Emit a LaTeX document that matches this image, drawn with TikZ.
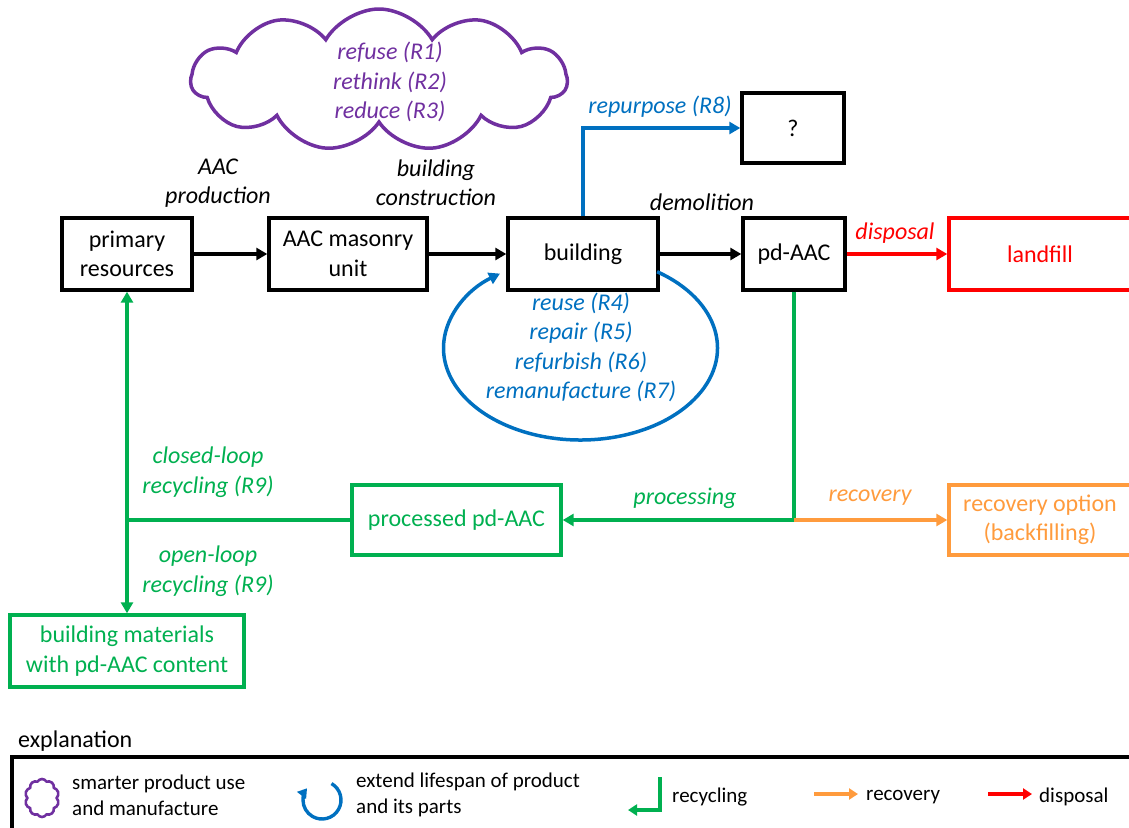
\documentclass[tikz,border=0pt]{standalone}
\usepackage{fontspec}
\setmainfont{Carlito}
\usetikzlibrary{arrows.meta,shapes.symbols}

\definecolor{cpurple}{HTML}{7030A0}
\definecolor{cblue}{HTML}{0070C0}
\definecolor{cgreen}{HTML}{00B050}
\definecolor{corange}{HTML}{FF9B3D}
\definecolor{cred}{HTML}{FF0000}

\tikzset{
  lw/.style={line width=3.5pt},
  bw/.style={line width=3.4pt},
  box/.style={draw, bw, rectangle, inner sep=0pt, align=center,
    font=\fontsize{24}{29.5}\selectfont},
  lbl/.style={align=center, inner sep=0pt, font=\fontsize{24}{29.5}\selectfont\itshape},
  leg/.style={anchor=west, align=left, inner sep=0pt, font=\fontsize{21}{26}\selectfont},
  tip/.style={-{Triangle[length=11pt,width=12pt]}},
  smalltip/.style={-{Triangle[length=9pt,width=11pt]}},
}

\begin{document}
\begin{tikzpicture}[x=1pt,y=-1pt]
\useasboundingbox (0,0) rectangle (1129,827);

% cloud of the smarter-use strategies
\node[cloud, draw=cpurple, lw, cloud puffs=11, cloud puff arc=120, aspect=2.6,
      minimum width=376pt, minimum height=142pt, inner sep=0pt] (cloud) at (379,80) {};
\node[lbl, text=cpurple] (rthree) at (390,82) {refuse (R1)\\rethink (R2)\\reduce (R3)};

% main chain
\node[box, minimum width=130pt, minimum height=72pt] (prim) at (127,254) {primary\\resources};
\node[box, minimum width=158pt, minimum height=72pt] (aac) at (348,254) {AAC masonry\\unit};
\node[box, minimum width=150pt, minimum height=72pt] (bld) at (583,254) {building};
\node[box, minimum width=102pt, minimum height=72pt] (pd) at (794,254) {pd-AAC};
\node[box, minimum width=102pt, minimum height=70pt] (q) at (793,128) {?};
\node[box, draw=cred, text=cred, minimum width=182pt, minimum height=72pt] (land) at (1040,254) {landfill};

\node[box, draw=cgreen, text=cgreen, minimum width=209pt, minimum height=70pt] (proc) at (456.5,520) {processed pd-AAC};
\node[box, draw=corange, text=corange, minimum width=182pt, minimum height=70pt] (rec) at (1040,520) {recovery option\\(backfilling)};
\node[box, draw=cgreen, text=cgreen, minimum width=234pt, minimum height=72pt] (bmat) at (127,651) {building materials\\with pd-AAC content};

% process labels
\node[lbl] (lprod) at (218,183) {AAC\\production};
\node[lbl] (lcons) at (436,183) {building\\construction};
\node[lbl] (ldem) at (702,202) {demolition};
\node[lbl, text=cblue] (lrep) at (660,107) {repurpose (R8)};
\node[lbl, text=cred] (ldis) at (895,233) {disposal};
\node[lbl, text=cblue] (lext) at (581,347.5) {reuse (R4)\\repair (R5)\\refurbish (R6)\\remanufacture (R7)};
\node[lbl, text=cgreen] (lclosed) at (208,472) {closed-loop\\recycling (R9)};
\node[lbl, text=cgreen] (lopen) at (208,571) {open-loop\\recycling (R9)};
\node[lbl, text=cgreen] (lproc) at (685,498) {processing};
\node[lbl, text=corange] (lrec) at (870,498) {recovery};

% connectors
\draw[lw, tip] (prim) -- (aac);
\draw[lw, tip] (aac) -- (bld);
\draw[lw, tip] (bld) -- (pd);
\draw[lw, tip, cred] (pd) -- (land);
\draw[lw, tip, cblue] (bld.north) |- (q.west);
\draw[lw, tip, cblue] ([shift={(-56:137 and 92)}]580.5,348) arc[start angle=-56, end angle=234, x radius=137, y radius=92];

\coordinate (split) at (pd.south |- proc.east);
\coordinate (merge) at (prim.south |- proc.west);
\draw[lw, cgreen] (pd.south) -- (split);
\draw[lw, tip, cgreen] (split) -- (proc.east);
\draw[lw, tip, corange] (split) -- (rec.west);
\draw[lw, cgreen] (proc.west) -- (merge);
\draw[lw, tip, cgreen] (merge) -- (prim.south);
\draw[lw, tip, cgreen] (merge) -- (bmat.north);

% explanation
\node[anchor=west, inner sep=0pt, font=\fontsize{24}{28}\selectfont] (expl) at (18,741) {explanation};
\draw[bw] (12,845) -- (12,757) -- (1145,757);

\node[cloud, draw=cpurple, line width=2.6pt, cloud puffs=10, cloud puff arc=120, aspect=0.9,
      minimum width=34pt, minimum height=38pt, inner sep=0pt] (kcloud) at (42,798) {};
\node[leg] (kt1) at (72,795) {smarter product use\\and manufacture};

\draw[line width=3.4pt, cblue, smalltip] ([shift={(-60:19)}]322,800) arc[start angle=-60, end angle=218, radius=19];
\node[leg] (kt2) at (356,795) {extend lifespan of product\\and its parts};

\coordinate (ga) at (660,777);
\coordinate (gb) at (660,810);
\coordinate (gc) at (628,810);
\draw[line width=3.4pt, cgreen, smalltip] (ga) -- (gb) -- (gc);
\node[leg] (kt3) at (672,797) {recycling};

\coordinate (oa) at (814,794);
\coordinate (ob) at (858,794);
\draw[line width=3.4pt, corange, smalltip] (oa) -- (ob);
\node[leg] (kt4) at (866,797) {recovery};

\coordinate (ra) at (988,794);
\coordinate (rb) at (1032,794);
\draw[line width=3.4pt, cred, smalltip] (ra) -- (rb);
\node[leg] (kt5) at (1039,797) {disposal};
\end{tikzpicture}
\end{document}
